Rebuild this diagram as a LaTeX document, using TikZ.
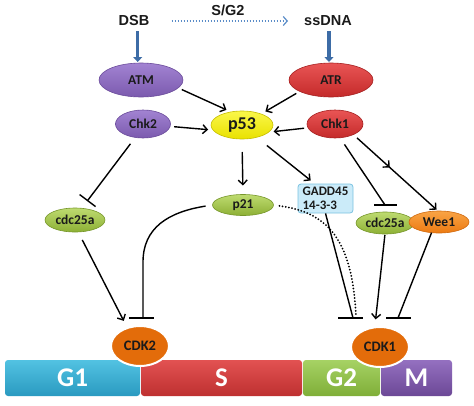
\documentclass[tikz,border=0pt]{standalone}
\usepackage{fontspec}
\setmainfont{Carlito}
\newfontfamily\arialb{Liberation Sans}
\usetikzlibrary{arrows.meta,decorations.markings,calc,shapes.geometric}
\definecolor{txtc}{HTML}{1A1A1A}
\definecolor{blueA}{HTML}{3D6CA6}
\definecolor{blueD}{HTML}{5A8CC8}
\definecolor{purT}{HTML}{A283D2}
\definecolor{purB}{HTML}{7B5AAE}
\definecolor{purE}{HTML}{6A4B9A}
\definecolor{redT}{HTML}{E95555}
\definecolor{redB}{HTML}{C42A2A}
\definecolor{redE}{HTML}{A52020}
\definecolor{yelT}{HTML}{FAF74A}
\definecolor{yelB}{HTML}{E9E100}
\definecolor{yelE}{HTML}{C6BE00}
\definecolor{grnT}{HTML}{BEDB70}
\definecolor{grnB}{HTML}{8DB035}
\definecolor{grnE}{HTML}{76962A}
\definecolor{orT}{HTML}{F9A445}
\definecolor{orB}{HTML}{EC7A12}
\definecolor{orE}{HTML}{D06A10}
\definecolor{cdkc}{HTML}{E36C0A}
\definecolor{gadF}{HTML}{CBEBF9}
\definecolor{gadE}{HTML}{7BC3E0}
\definecolor{g1T}{HTML}{52C2E2}
\definecolor{g1B}{HTML}{2A9AC0}
\definecolor{sT}{HTML}{E25252}
\definecolor{sB}{HTML}{BE3030}
\definecolor{g2T}{HTML}{A6D264}
\definecolor{g2B}{HTML}{7FAE38}
\definecolor{mT}{HTML}{9470C0}
\definecolor{mB}{HTML}{6C4896}
\begin{document}
\begin{tikzpicture}[x=1pt,y=-1pt,
  ell/.style={ellipse, inner sep=0pt, outer sep=0pt, text=txtc,
    font=\bfseries\fontsize{13.5}{13.5}\selectfont, line width=0.6pt},
  purp/.style={ell, top color=purT, bottom color=purB, draw=purE},
  redd/.style={ell, top color=redT, bottom color=redB, draw=redE},
  gren/.style={ell, top color=grnT, bottom color=grnB, draw=grnE},
  orng/.style={ell, top color=orT, bottom color=orB, draw=orE},
  cdk/.style={ell, fill=cdkc, draw=white, line width=2pt,
    minimum width=58pt, minimum height=40pt, font=\bfseries\fontsize{14.5}{14.5}\selectfont},
  toptext/.style={inner sep=0pt, font=\arialb\bfseries\fontsize{14.5}{14.5}\selectfont, text=txtc},
  phase/.style={rounded corners=3pt, inner sep=0pt, minimum height=36pt, text=white,
    font=\bfseries\fontsize{27}{27}\selectfont},
  conn/.style={line width=1.4pt, draw=black},
  arr/.style={conn, -{Straight Barb[length=4.5pt,width=9pt]}, shorten <=4pt, shorten >=5pt},
  inh/.style={conn, -{Bar[width=20pt]}},
  tbar/.style={line width=1.6pt},
  bluearr/.style={draw=blueA, line width=3.5pt, -{Triangle[length=5pt,width=9pt]}},
  dotarr/.style={draw=blueD, line width=1.3pt, dash pattern=on 1.3pt off 1.7pt,
    -{Straight Barb[length=4pt,width=9pt,line width=1.2pt]}},
  dotl/.style={line width=2pt, dash pattern=on 0pt off 3.2pt, line cap=round},
  midarr/.style={postaction={decorate}, decoration={markings,
    mark=at position 0.43 with {\arrow{Straight Barb[length=4.5pt,width=9pt]}}}}
]
\useasboundingbox (0,0) rectangle (474,405);

% top labels
\node[toptext] (dsb) at (134,21) {DSB};
\node[toptext] (ssdna) at (328,21) {ssDNA};
\node[toptext] (sg2) at (228,10) {S/G2};

% proteins
\node[purp, minimum width=84pt, minimum height=34pt] (atm) at (141,80) {ATM};
\node[purp, minimum width=55pt, minimum height=28pt] (chk2) at (143,124) {Chk2};
\node[redd, minimum width=84pt, minimum height=34pt] (atr) at (331,80) {ATR};
\node[redd, minimum width=56pt, minimum height=28pt] (chk1) at (335,124) {Chk1};
\node[ell, top color=yelT, bottom color=yelB, draw=yelE, minimum width=62pt, minimum height=28pt,
  font=\bfseries\fontsize{18}{18}\selectfont] (p53) at (242,125) {p53};
\node[gren, minimum width=61pt, minimum height=21pt] (p21) at (243,205) {p21};
\node[rectangle, rounded corners=3pt, fill=gadF, draw=gadE, line width=0.8pt,
  minimum width=55pt, minimum height=29pt, inner sep=0pt, align=left, text=txtc,
  font=\bfseries\fontsize{13}{14.5}\selectfont] (gadd) at (325.5,198.5) {GADD45\\14-3-3};
\node[gren, minimum width=60pt, minimum height=24pt] (cdcL) at (75,220) {cdc25a};
\node[gren, minimum width=58pt, minimum height=22pt] (cdcR) at (385,223) {cdc25a};
\node[orng, minimum width=60pt, minimum height=22pt] (wee1) at (439,222) {Wee1};

% phase bar
\node[phase, top color=g1T, bottom color=g1B, minimum width=135pt] (g1) at (72.5,378) {G1};
\node[phase, top color=sT, bottom color=sB, minimum width=161pt] (s) at (221.5,378) {S};
\node[phase, top color=g2T, bottom color=g2B, minimum width=77pt] (g2) at (341.5,378) {G2};
\node[phase, top color=mT, bottom color=mB, minimum width=71pt] (m) at (416.5,378) {M};

\node[cdk] (cdk2) at (140,346) {CDK2};
\node[cdk] (cdk1) at (380,347) {CDK1};

% inhibition bar positions
\coordinate (t2) at (143,318);
\coordinate (t1) at (353,318);
\coordinate (t3) at (356,316);
\coordinate (t4) at (385,205);
\coordinate (t5) at (398,318);

% top connectors
\draw[dotarr, shorten <=22pt, shorten >=16pt] (dsb.east) -- (ssdna.west);
\draw[bluearr, shorten <=5pt, shorten >=1pt] ([xshift=3.7pt]dsb.south) -- ([xshift=-3.3pt]atm.north);
\draw[bluearr, shorten <=5pt, shorten >=1pt] ([xshift=1pt]ssdna.south) -- ([xshift=-2pt]atr.north);

% activations to p53
\draw[arr] (atm.-12) -- (p53.130);
\draw[arr] (chk2.-5) -- (p53.190);
\draw[arr] (atr.200) -- (p53.30);
\draw[arr] (chk1.188) -- (p53.-15);
\draw[arr, shorten <=13pt, shorten >=9pt] (p53.south) -- (p21.north);
\draw[arr, shorten <=13pt] (p53.-40) -- ([xshift=17pt]gadd.north west);

% left branch
\draw[inh, shorten <=8pt, shorten >=9pt] (chk2.-120) -- (cdcL.60);
\draw[arr, shorten <=9pt, shorten >=8pt] (cdcL.-75) -- (cdk2.125);
\draw[conn, shorten <=7pt] (p21.west) .. controls (168,212) and (143,228) .. (143,262) -- (t2);
\draw[tbar] ($(t2)+(-14,0)$) -- ($(t2)+(11,0)$);

% right branch
\draw[arr, midarr, shorten <=5pt, shorten >=2pt] (chk1.-30) -- (wee1.95);
\draw[conn, shorten <=8pt] (chk1.-70) -- (t4);
\draw[tbar] ($(t4)+(-11,0)$) -- ($(t4)+(12,0)$);
\draw[dotl, shorten <=6pt] (p21.east) .. controls (322,212) and (352,232) .. (t3);
\draw[conn] (gadd.south) -- (t1);
\draw[tbar] ($(t1)+(-15,0)$) -- ($(t1)+(10,0)$);
\draw[arr, shorten <=1pt, shorten >=8pt] (cdcR.south) -- (cdk1.105);
\draw[conn] (wee1.-125) -- (t5);
\draw[tbar] ($(t5)+(-12,0)$) -- ($(t5)+(13,0)$);
\end{tikzpicture}
\end{document}
